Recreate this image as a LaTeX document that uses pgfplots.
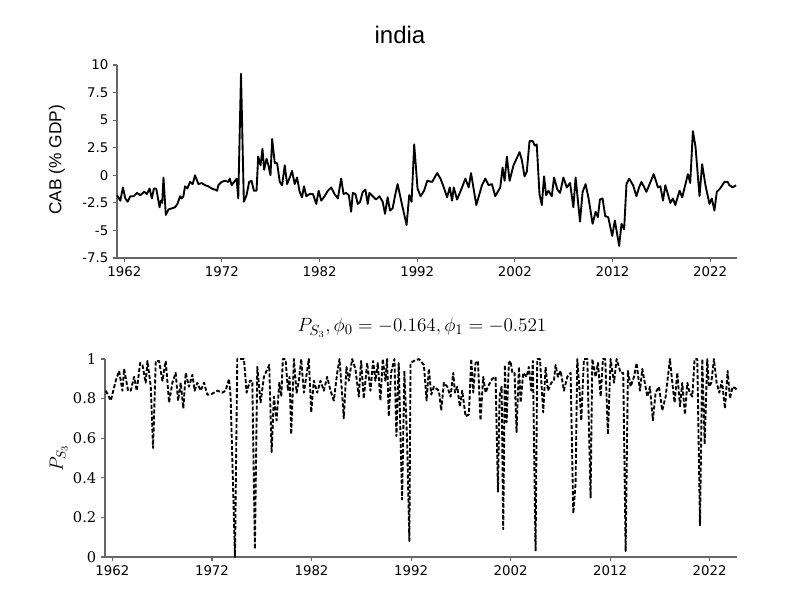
\documentclass[border=0pt]{standalone}
\usepackage{fontspec}
\usepackage{pgfplots}
\pgfplotsset{compat=1.18}
\setmainfont{DejaVu Sans}
\newfontfamily\arial{Liberation Sans}
\newfontfamily\djserif{DejaVu Serif}
\begin{document}
\begin{tikzpicture}
\path[fill=white] (0pt,0pt) rectangle (600pt,450pt);
\pgfplotsset{common/.style={scale only axis, anchor=south west,
  axis x line*=bottom, axis y line*=left,
  axis line style={draw=gray!80!black, line width=1.1pt},
  every tick/.style={draw=gray!80!black, line width=0.8pt},
  tick align=outside, major tick length=3pt,
  xmin=1961.25, xmax=2024.75,
  xtick={1962,1972,1982,1992,2002,2012,2022},
  xticklabels={1962,1972,1982,1992,2002,2012,2022},
  tick label style={font=\fontsize{10}{12}\selectfont},
  clip=false}}
\begin{axis}[common, at={(87.75pt,256.5pt)}, width=465pt, height=144.75pt,
  ymin=-7.5, ymax=10, ytick={-7.5,-5,-2.5,0,2.5,5,7.5,10},
  yticklabels={-7.5,-5,-2.5,0,2.5,5,7.5,10}]
\addplot[black, line width=1.4pt, line join=round] coordinates {
(1961.25,-1.8)(1961.59,-2.3)(1961.86,-1.1)(1962.10,-2.1)(1962.34,-2.4)(1962.61,-1.9)(1962.95,-1.9)(1963.29,-1.6)(1963.63,-1.8)(1964.04,-1.5)(1964.31,-1.7)(1964.59,-1.2)(1964.82,-2.1)(1965.03,-1.2)(1965.27,-1.2)(1965.61,-2.9)(1965.74,-2.3)(1965.88,-2.5)(1966.01,-0.2)(1966.25,-3.6)(1966.52,-3.1)(1966.86,-3.0)(1967.20,-2.9)(1967.44,-2.6)(1967.71,-1.9)(1967.88,-2.1)(1968.05,-1.9)(1968.22,-1.0)(1968.46,-1.2)(1968.73,-0.6)(1969.0,-0.8)(1969.24,0.0)(1969.59,-0.8)(1969.93,-0.7)(1970.27,-0.9)(1970.61,-1.0)(1970.95,-1.2)(1971.29,-1.3)(1971.5,-1.4)(1971.63,-0.9)(1971.97,-0.6)(1972.31,-0.5)(1972.65,-0.6)(1972.8,-0.3)(1972.99,-0.9)(1973.33,-0.5)(1973.50,-0.3)(1973.67,-2.1)(1973.95,9.2)(1974.24,-2.4)(1974.52,-1.8)(1974.79,-0.6)(1975.03,-0.5)(1975.27,-1.4)(1975.54,-1.4)(1975.71,1.7)(1975.95,0.9)(1976.15,2.4)(1976.32,0.5)(1976.56,1.5)(1976.76,0.9)(1976.97,0.0)(1977.14,3.3)(1977.41,1.1)(1977.65,1.1)(1977.92,-0.6)(1978.16,-0.9)(1978.43,0.9)(1978.67,-0.8)(1978.94,-0.2)(1979.18,0.4)(1979.45,-0.8)(1979.69,-0.2)(1979.96,-1.5)(1980.20,-2.0)(1980.40,-1.0)(1980.64,-1.9)(1980.98,-1.7)(1981.32,-1.7)(1981.66,-2.6)(1981.90,-1.4)(1982.17,-2.3)(1982.51,-1.9)(1982.85,-1.4)(1983.19,-1.1)(1983.53,-1.7)(1983.87,-2.1)(1984.21,-0.3)(1984.45,-1.7)(1984.72,-1.6)(1984.99,-1.8)(1985.23,-3.3)(1985.40,-1.6)(1985.67,-1.7)(1985.91,-2.6)(1986.15,-2.4)(1986.42,-1.5)(1986.69,-1.3)(1986.93,-2.6)(1987.10,-1.6)(1987.44,-1.9)(1987.78,-2.2)(1988.12,-1.9)(1988.46,-2.4)(1988.70,-3.5)(1988.97,-2.0)(1989.21,-3.2)(1989.48,-3.0)(1989.76,-1.7)(1989.99,-0.8)(1990.50,-2.9)(1990.91,-4.5)(1991.18,-1.8)(1991.42,-2.4)(1991.69,2.8)(1992.03,-1.2)(1992.34,-1.9)(1992.7,-1.4)
(1993.02,-0.5)(1993.53,-0.6)(1994.04,0.2)(1994.38,-0.3)(1994.72,-1.1)(1995.06,-2.0)(1995.33,-1.1)(1995.57,-2.3)(1995.74,-1.1)(1996.08,-2.2)(1996.59,-1.1)(1996.93,-0.3)(1997.27,-1.1)(1997.51,0.2)(1998.05,-2.7)(1998.63,-0.9)(1998.97,-0.3)(1999.31,-0.9)(1999.65,-0.8)(1999.99,-1.9)(2000.50,-1.1)(2000.74,0.7)(2000.95,-0.5)(2001.18,1.7)(2001.46,-0.5)(2001.86,0.9)(2002.48,2.1)(2002.71,1.4)(2002.99,-0.1)(2003.22,0.3)(2003.50,3.1)(2003.84,3.1)(2004.04,2.7)(2004.24,2.8)(2004.52,-1.7)(2004.76,-2.7)(2004.99,-0.1)(2005.20,-1.8)(2005.44,-1.4)(2005.78,-1.9)(2006.01,-0.2)(2006.35,-1.3)(2006.63,-1.6)(2006.97,-0.2)(2007.31,-1.1)(2007.65,-0.7)(2007.99,-2.9)(2008.22,-0.2)(2008.67,-4.2)(2008.94,-1.5)(2009.24,-0.8)(2009.55,-2.1)(2009.96,-4.4)(2010.27,-3.3)(2010.50,-3.8)(2010.71,-2.2)(2010.98,-2.1)(2011.25,-3.7)(2011.56,-3.8)(2011.97,-5.5)(2012.24,-4.1)(2012.68,-6.4)(2012.92,-4.4)(2013.19,-4.9)(2013.43,-0.8)(2013.70,-0.3)(2014.11,-0.9)(2014.45,-1.9)(2014.72,-1.1)(2014.96,-0.6)(2015.2,-1.0)(2015.47,-1.5)(2015.8,-0.8)(2016.22,0.1)(2016.66,-1.1)(2016.90,-1.0)(2017.17,-2.3)(2017.41,-0.9)(2017.92,-2.5)(2018.19,-2.1)(2018.43,-2.7)(2018.87,-1.4)(2019.14,-2.0)(2019.72,0.1)(2019.96,-0.7)(2020.23,4.0)(2020.50,2.6)(2020.91,-1.9)(2021.18,1.0)(2021.52,-0.9)(2021.93,-2.6)(2022.17,-2.1)(2022.44,-3.2)(2022.68,-1.5)(2023.02,-1.2)(2023.46,-0.6)(2023.80,-0.6)(2023.97,-0.9)(2024.31,-1.1)(2024.65,-0.9)};
\end{axis}
\begin{axis}[common, at={(78.75pt,32.25pt)}, width=474pt, height=148.5pt,
  ymin=0, ymax=1, ytick={0,0.2,0.4,0.6,0.8,1},
  yticklabels={0,0.2,0.4,0.6,0.8,1},
  yticklabel style={font=\djserif\fontsize{11}{13}\selectfont}]
\addplot[black, line width=1.4pt, dash pattern=on 3pt off 1.5pt, line join=round] coordinates {
(1961.33,0.84)(1961.83,0.79)(1962.33,0.89)(1962.67,0.94)(1963.00,0.84)(1963.17,0.95)(1963.57,0.84)(1963.84,0.84)(1964.17,0.91)(1964.44,0.84)(1964.78,0.98)(1965.01,0.97)(1965.34,0.88)(1965.51,0.99)(1965.85,0.86)(1966.08,0.55)(1966.35,0.99)(1966.68,0.99)(1967.02,0.89)(1967.35,0.99)(1967.69,0.78)(1968.02,0.88)(1968.35,0.93)(1968.59,0.79)(1968.86,0.88)(1969.12,0.75)(1969.36,0.93)(1969.69,0.86)(1970.03,0.92)(1970.26,0.84)(1970.53,0.88)(1970.86,0.84)(1971.20,0.88)(1971.53,0.82)(1971.87,0.82)(1972.20,0.83)(1972.54,0.84)(1973.04,0.83)(1973.37,0.84)(1973.71,0.90)(1973.87,0.81)(1974.31,0.0)(1974.54,1.0)(1975.21,1.0)(1975.48,0.83)(1975.81,0.89)(1976.05,0.89)(1976.31,0.04)(1976.55,0.96)(1976.88,0.78)(1977.22,0.91)(1977.75,0.97)(1977.99,0.53)(1978.22,0.81)(1978.49,0.69)(1978.76,0.88)(1978.96,0.81)(1979.12,1.0)(1979.39,1.0)(1979.63,0.84)(1979.79,0.91)(1979.96,0.62)(1980.23,1.0)(1980.50,0.83)(1980.73,0.89)(1980.96,1.0)(1981.23,0.83)(1981.47,0.91)(1981.73,1.0)(1981.97,0.73)(1982.23,0.89)(1982.57,0.83)(1982.90,0.89)(1983.24,0.84)(1983.57,0.91)(1983.91,0.84)(1984.24,0.79)(1984.58,0.93)(1984.81,1.0)(1985.08,0.82)(1985.24,0.70)(1985.51,0.96)(1985.75,0.89)(1986.08,1.0)(1986.41,0.95)(1986.75,0.81)(1986.98,0.99)(1987.25,0.80)(1987.59,0.98)(1987.92,0.84)(1988.19,0.99)(1988.42,0.89)(1988.66,0.98)(1988.92,0.79)(1989.16,1.0)(1989.42,0.89)(1989.59,1.0)(1989.76,0.71)(1989.99,0.93)(1990.33,1.0)(1990.53,0.61)(1990.76,0.98)(1991.10,0.29)(1991.33,0.94)(1991.60,0.59)(1991.83,0.08)(1991.95,0.98)(1992.28,0.99)(1992.79,1.0)(1993.29,0.97)(1993.56,0.79)(1993.79,0.95)(1994.03,0.82)(1994.29,0.86)(1994.80,0.84)(1995.03,0.74)(1995.30,0.88)(1995.64,0.86)(1995.97,0.81)(1996.24,0.93)(1996.41,0.83)(1996.64,0.86)(1996.91,0.76)(1997.14,0.84)(1997.48,0.71)(1997.81,0.72)(1998.05,1.0)(1998.25,0.83)(1998.48,0.98)(1998.72,0.99)(1998.98,0.69)(1999.25,0.91)(1999.49,0.83)(1999.72,0.86)(2000.16,0.90)(2000.49,0.91)(2000.73,0.33)(2000.89,0.81)(2001.10,0.86)(2001.26,0.14)(2001.43,0.97)(2001.60,0.68)(2001.83,0.98)(2002.00,0.99)(2002.17,0.93)(2002.40,0.93)(2002.60,0.63)(2002.84,0.96)(2003.01,0.78)(2003.27,0.93)(2003.61,0.91)(2003.84,0.96)(2004.08,0.84)(2004.24,0.99)(2004.51,0.03)(2004.68,1.0)(2004.95,1.0)(2005.28,0.73)(2005.52,0.96)(2005.75,0.84)(2006.09,0.88)(2006.36,0.89)(2006.52,0.97)(2006.76,0.91)(2007.03,0.94)(2007.36,0.84)(2007.70,0.91)(2008.03,0.93)(2008.30,0.22)(2008.53,0.37)(2008.70,1.0)(2008.93,0.84)(2009.10,0.69)(2009.37,1.0)(2009.71,1.0)(2010.04,0.30)(2010.21,1.0)(2010.54,0.91)(2010.78,0.98)(2011.05,0.81)(2011.28,1.0)(2011.51,1.0)(2011.78,0.62)(2012.05,1.0)(2012.39,0.88)(2012.65,1.0)(2013.06,0.93)(2013.32,0.93)(2013.56,0.03)(2013.79,0.94)(2014.06,0.86)(2014.40,0.91)(2014.66,0.98)(2015.00,0.84)(2015.23,0.95)(2015.74,0.81)(2016.00,0.86)(2016.30,0.69)(2016.57,0.83)(2016.91,0.86)(2017.24,0.74)(2017.58,0.81)(2018.01,1.0)(2018.25,0.88)(2018.48,0.78)(2018.75,0.93)(2019.02,0.76)(2019.25,0.88)(2019.52,0.72)(2019.76,0.88)(2019.99,0.83)(2020.26,0.81)(2020.49,1.0)(2020.76,1.0)(2021.03,0.16)(2021.26,1.0)(2021.50,0.57)(2021.76,1.0)(2021.93,0.86)(2022.17,0.88)(2022.43,1.0)(2022.70,0.88)(2022.97,0.83)(2023.24,0.89)(2023.54,0.75)(2023.81,0.94)(2024.04,0.80)(2024.31,0.86)(2024.65,0.85)(2024.81,0.84)};
\end{axis}
\node[font=\arial\fontsize{18}{20}\selectfont] at (300pt,423.75pt) {india};
\node[font=\arial\fontsize{13}{15}\selectfont, rotate=90] at (42.75pt,330pt) {CAB (\% GDP)};
\node[font=\fontsize{15}{17}\selectfont] at (316.5pt,204pt) {$P_{S_3}, \phi_0 = -0.164, \phi_1 = -0.521$};
\node[font=\fontsize{14}{16}\selectfont, rotate=90] at (44pt,106.5pt) {$P_{S_3}$};
\end{tikzpicture}
\end{document}
